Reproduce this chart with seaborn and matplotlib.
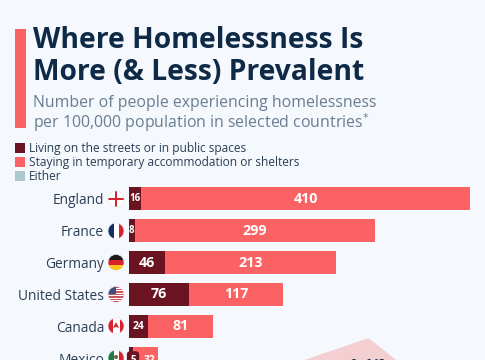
import numpy as np
import matplotlib.pyplot as plt
from matplotlib.patches import Rectangle, Circle, Polygon
import seaborn as sns
import pandas as pd

countries = ['England', 'France', 'Germany', 'United States', 'Canada', 'Mexico']
streets = [16, 8, 46, 76, 24, 5]
shelters = [410, 299, 213, 117, 81, 32]
legend_labels = ['Living on the streets or in public spaces',
                 'Staying in temporary accommodation or shelters',
                 'Either']

BG = '#f5f8fc'
NAVY = '#0f2a47'
GREY = '#6a7d92'
DARK = '#6b1421'
CORAL = '#fb6264'
EITHER = '#aec6cf'

W, H = 485, 360

sns.set_theme(style='white')
plt.rcParams['font.family'] = ['Open Sans', 'DejaVu Sans']

df = pd.DataFrame({'country': countries, 'streets': streets, 'shelters': shelters})
df['total'] = df['streets'] + df['shelters']

fig = plt.figure(figsize=(W / 100 + 0.001, H / 100 + 0.001), dpi=100, facecolor=BG)

# overlay in pixel coordinates for header, legend and flags
top = fig.add_axes([0, 0, 1, 1], zorder=3)
top.set_xlim(0, W)
top.set_ylim(H, 0)
top.axis('off')

# bars: total behind, streets on top
ax = fig.add_axes([128.5 / W, -14 / H, (W - 128.5) / W, 191 / H], zorder=1, facecolor='none')
sns.barplot(df, y='country', x='total', color=CORAL, width=0.72, saturation=1, linewidth=0, ax=ax)
sns.barplot(df, y='country', x='streets', color=DARK, width=0.72, saturation=1, linewidth=0, ax=ax)
ax.set_xlim(0, (W - 128.5) / 0.8016)
ax.set_xlabel('')
ax.set_ylabel('')
ax.set_xticks([])
ax.set_yticks(range(len(countries)))
ax.set_yticklabels(countries, fontsize=9.9, color='#2c3e55')
ax.tick_params(axis='y', length=0, pad=17.5)
sns.despine(ax=ax, left=True, bottom=True)

for i, (a, b) in enumerate(zip(streets, shelters)):
    if a == 5:
        ax.annotate(str(a), (a + 0.6, i), xytext=(0, -1.5), textcoords='offset points', ha='center',
                    va='center', color='white', fontsize=7, fontweight='bold',
                    bbox=dict(boxstyle='round,pad=0.35', fc=DARK, ec='none'))
        ax.annotate(str(b), (a + b / 2 + 4.6, i), xytext=(0, -1.5), textcoords='offset points', ha='center',
                    va='center', color='white', fontsize=7.5, fontweight='bold')
        continue
    if a >= 40:
        size = 10.3
    elif a >= 20:
        size = 7.5
    else:
        size = 7
    ax.text(a / 2, i, str(a), ha='center', va='center', color='white', fontsize=size, fontweight='bold')
    ax.text(a + b / 2, i, str(b), ha='center', va='center', color='white', fontsize=10.3, fontweight='bold')

# header
top.add_patch(Rectangle((14.5, 29.5), 11, 99, fc=CORAL, ec='none'))
top.text(32.5, 40, 'Where Homelessness Is', fontsize=20.3, fontweight='bold', color=NAVY, va='center')
top.text(32.5, 72, 'More (& Less) Prevalent', fontsize=20.3, fontweight='bold', color=NAVY, va='center')
top.text(32.5, 103, 'Number of people experiencing homelessness', fontsize=11.4, color=GREY, va='center')
top.text(32.5, 122.5, 'per 100,000 population in selected countries$^{*}$', fontsize=11.4, color=GREY, va='center')

# legend
for y, lab, col in zip([148.5, 162.5, 176.5], legend_labels, [DARK, CORAL, EITHER]):
    top.add_patch(Rectangle((14.5, y - 5), 10, 10, fc=col, ec='none'))
    top.text(29, y, lab, fontsize=8.6, color='#2c3e55', va='center')

# flags, clipped to circles
def flag(cy, draw):
    clip = Circle((116, cy), 8, transform=top.transData)
    for p in draw(cy):
        top.add_patch(p)
        p.set_clip_path(clip)
    top.add_patch(Circle((116, cy), 8, fc='none', ec='#e4e8ee', lw=0.5))

def rect(x, y, w, h, c):
    return Rectangle((x, y), w, h, fc=c, ec='none')

RED = '#d8232f'
flag(199, lambda c: [rect(108, c - 8, 16, 16, 'white'), rect(108, c - 1.2, 16, 2.4, RED), rect(114.8, c - 8, 2.4, 16, RED)])
flag(231, lambda c: [rect(108, c - 8, 5.5, 16, '#12305f'), rect(113.5, c - 8, 5, 16, 'white'), rect(118.5, c - 8, 5.5, 16, RED)])
flag(262.5, lambda c: [rect(108, c - 8, 16, 5.4, '#1a1a1a'), rect(108, c - 2.6, 16, 5.3, RED), rect(108, c + 2.7, 16, 5.3, '#fcc419')])
flag(294.5, lambda c: [rect(108, c - 8, 16, 16, 'white')]
     + [rect(108, c - 8 + k * 2.46, 16, 1.23, '#c9535e') for k in range(7)]
     + [rect(108, c - 8, 8, 8, '#3d4f80')])
flag(326, lambda c: [rect(108, c - 8, 4.5, 16, RED), rect(112.5, c - 8, 7, 16, 'white'), rect(119.5, c - 8, 4.5, 16, RED),
                     Polygon([(116, c - 4), (119, c + 2), (116, c + 1), (113, c + 2)], fc=RED, ec='none')])
flag(358, lambda c: [rect(108, c - 8, 5.5, 16, '#1f7a4a'), rect(113.5, c - 8, 5, 16, 'white'), rect(118.5, c - 8, 5.5, 16, RED),
                     Circle((116, c - 1), 2, fc='#7a5a3a', ec='none')])

# note box running off the bottom edge
top.add_patch(Polygon([(295, 366.5), (368, 341.5), (399, 366.5)], closed=True, fc='#f4cfd2', ec='#f4cfd2',
                      lw=4.5, joinstyle='round'))
top.text(368, 364.5, '8 of 13', fontsize=7.5, fontweight='bold', color=NAVY, ha='center', va='center')

fig.savefig('out.png', dpi=100, facecolor=BG)
